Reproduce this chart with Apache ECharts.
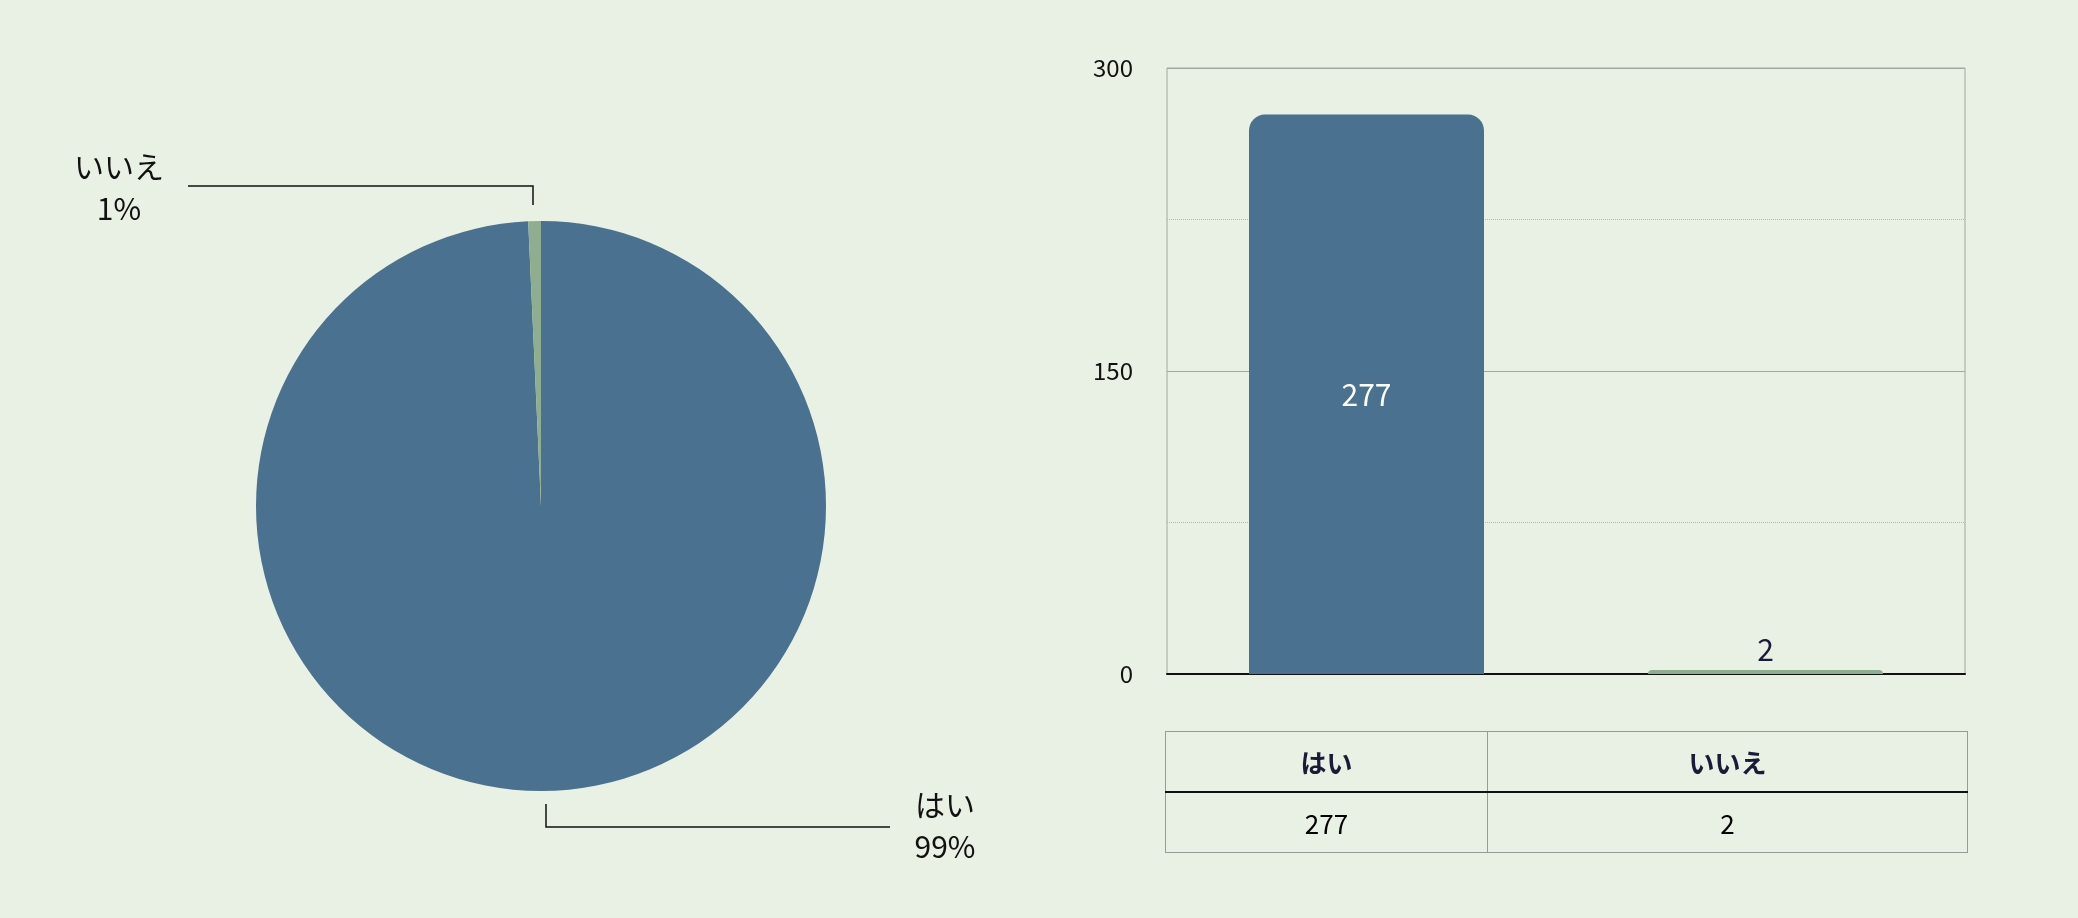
<!DOCTYPE html>
<html><head><meta charset="utf-8">
<script src="https://cdn.jsdelivr.net/npm/echarts@6/dist/echarts.min.js"></script>
<style>
html,body{margin:0;padding:0;background:#e9f0e4;}
#c{width:2078px;height:918px;}
#tbl{position:absolute;left:1165px;top:731px;width:803px;border-collapse:collapse;
 font-family:"Noto Sans CJK JP",sans-serif;font-size:26px;text-align:center;}
#tbl td{border:1px solid #999;height:59px;padding:0;}
#tbl tr:first-child td{font-weight:bold;color:#1a1a3a;border-bottom:2px solid #111;}
</style></head>
<body>
<div id="c"></div>
<table id="tbl"><tr><td id="h0"></td><td id="h1"></td></tr><tr><td id="v0"></td><td id="v1"></td></tr></table>
<script>
var categories = ['はい', 'いいえ'];
var counts = [277, 2];
var yTicks = [0, 150, 300];
var colors = ['#4a7190', '#8fae8f'];

categories.forEach(function (c, i) {
    document.getElementById('h' + i).textContent = c;
    document.getElementById('v' + i).textContent = counts[i];
});

var chart = echarts.init(document.getElementById('c'));
var font = '"Noto Sans CJK JP", sans-serif';
var labelSpots = [
    {x: 945, y: 826, pts: [[546, 804], [546, 827], [890, 827]]},
    {x: 119, y: 188, pts: [[533, 205], [533, 186], [188, 186]]}
];
chart.setOption({
    animation: false,
    backgroundColor: '#e9f0e4',
    grid: {left: 1167, right: 113, top: 68, bottom: 244, show: true, borderColor: '#a0a8a0', borderWidth: 1},
    xAxis: {
        type: 'category', data: categories,
        axisLine: {lineStyle: {color: '#111', width: 2}},
        axisTick: {show: false}, axisLabel: {show: false}
    },
    yAxis: {
        type: 'value', min: yTicks[0], max: yTicks[2], interval: 150,
        axisLine: {show: false}, axisTick: {show: false},
        axisLabel: {color: '#111', fontSize: 24, fontFamily: font, margin: 34},
        splitLine: {lineStyle: {color: '#a0a8a0'}},
        minorTick: {show: false, splitNumber: 2},
        minorSplitLine: {show: true, lineStyle: {color: '#b0b8b0', type: 'dotted'}}
    },
    series: [{
        type: 'pie',
        center: [541, 506], radius: 285,
        startAngle: 90,
        data: categories.map(function (c, i) {
            return {name: c, value: counts[i], itemStyle: {color: colors[i]}};
        }),
        label: {
            formatter: function (p) { return p.name + '\n' + Math.round(p.percent) + '%'; },
            fontSize: 30, fontFamily: font, color: '#111', align: 'right', lineHeight: 42
        },
        labelLine: {show: true, lineStyle: {color: '#111', width: 1.5}},
        labelLayout: function (p) {
            var s = labelSpots[p.dataIndex];
            return {x: s.x, y: s.y, align: 'center', verticalAlign: 'middle', labelLinePoints: s.pts};
        }
    }, {
        type: 'bar',
        barWidth: 235,
        data: counts.map(function (v, i) {
            return {value: v, itemStyle: {color: colors[i], borderRadius: [16, 16, 0, 0]},
                label: i === 0 ? {position: 'inside', color: '#fff'} : {position: 'top', color: '#1a1a3a'}};
        }),
        label: {show: true, fontSize: 30, fontFamily: font}
    }]
});
</script>
</body></html>
